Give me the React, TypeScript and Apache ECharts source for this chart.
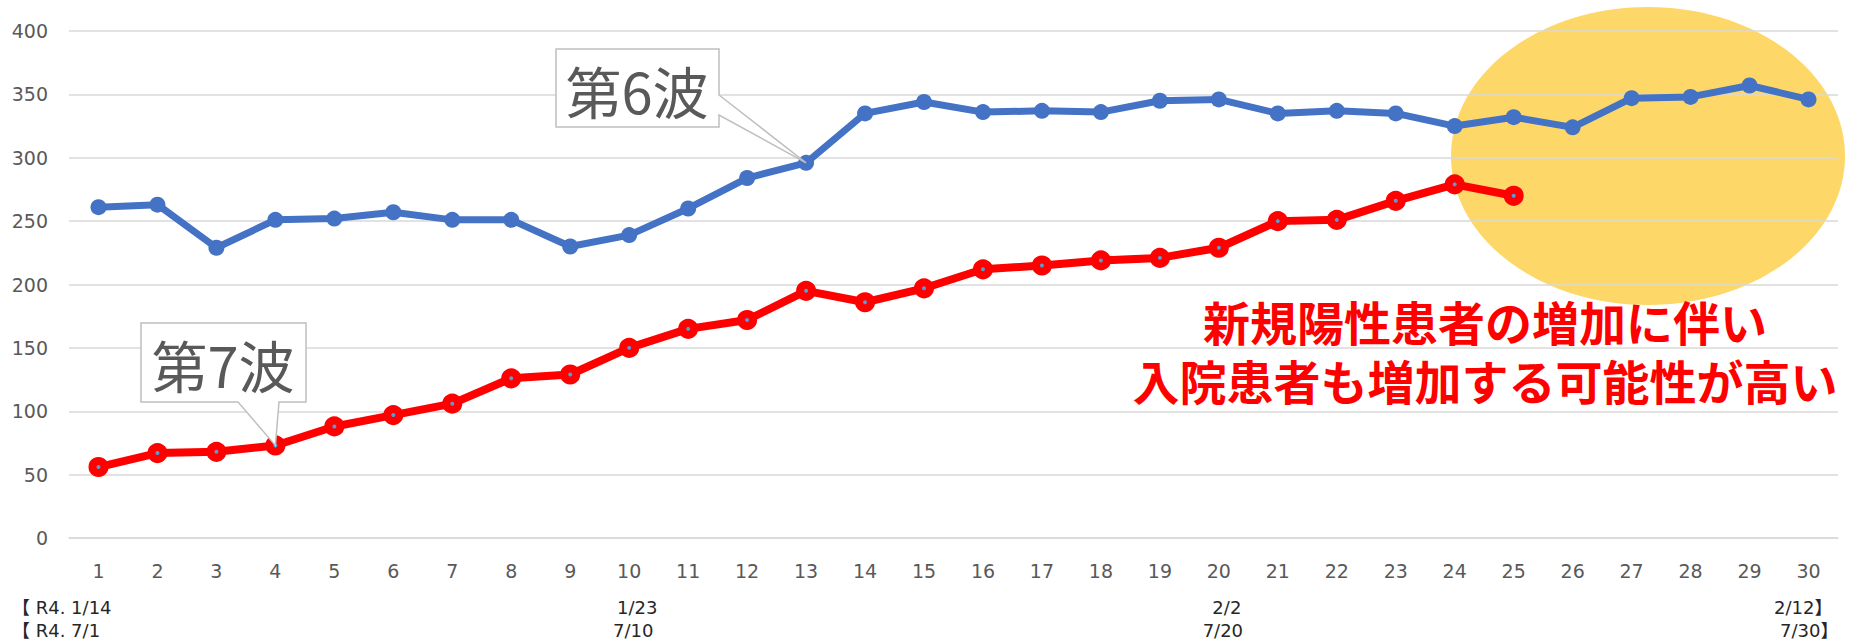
import React, { useEffect, useRef } from 'react';
import * as echarts from 'echarts';

const days = ['1','2','3','4','5','6','7','8','9','10','11','12','13','14','15','16','17','18','19','20','21','22','23','24','25','26','27','28','29','30'];
const wave6 = [261,263,229,251,252,257,251,251,230,239,260,284,296,335,344,336,337,336,345,346,335,337,335,325,332,324,347,348,357,346];
const wave7 = [56,67,68,73,88,97,106,126,129,150,165,172,195,186,197,212,215,219,221,229,250,251,266,279,270];
const yMin = 0;
const yMax = 400;
const yStep = 50;
const dateIdx = [0, 9, 19, 29];
const dateRow1 = ['【 R4. 1/14', '1/23', '2/2', '2/12】'];
const dateRow2 = ['【 R4. 7/1', '7/10', '7/20', '7/30】'];
const label6 = '第6波';
const label7 = '第7波';
const message = ['新規陽性患者の増加に伴い', '入院患者も増加する可能性が高い'];

const FONT = '"Noto Sans CJK JP", "Noto Sans", sans-serif';
const NUMFONT = '"DejaVu Sans", "Noto Sans CJK JP", sans-serif';

export default function App() {
  const ref = useRef<HTMLDivElement>(null);
  useEffect(() => {
    if (!ref.current) return;
    const chart = echarts.init(ref.current, undefined, { renderer: 'svg' });
    chart.setOption({
      animation: false,
      backgroundColor: '#ffffff',
      grid: { left: 69, right: 25, top: 31, bottom: 104, containLabel: false },
      xAxis: {
        type: 'category',
        data: days,
        boundaryGap: true,
        axisLine: { show: true, lineStyle: { color: '#D9D9D9', width: 1.5 } },
        axisTick: { show: false },
        axisLabel: { color: '#595959', fontSize: 19, fontFamily: NUMFONT, margin: 23 },
      },
      yAxis: {
        type: 'value',
        min: yMin,
        max: yMax,
        interval: yStep,
        axisLine: { show: false },
        axisTick: { show: false },
        axisLabel: { color: '#595959', fontSize: 19, fontFamily: NUMFONT, margin: 21 },
        splitLine: { lineStyle: { color: '#D9D9D9', width: 1.5 } },
      },
      series: [
        {
          name: '第6波',
          type: 'line',
          data: wave6,
          symbol: 'circle',
          symbolSize: 16,
          lineStyle: { color: '#4472C4', width: 7 },
          itemStyle: { color: '#4472C4' },
          z: 3,
        },
        {
          name: '第7波',
          type: 'line',
          data: wave7,
          symbol: 'circle',
          symbolSize: 12,
          lineStyle: { color: '#FF0000', width: 8 },
          itemStyle: { color: '#5B9BD5', borderColor: '#FF0000', borderWidth: 8 },
          z: 4,
        },
      ],
    });

    const px = (i: number, v: number) => chart.convertToPixel({ xAxisIndex: 0, yAxisIndex: 0 }, [i, v]) as number[];
    const tip6 = px(12, wave6[12]);
    const tip7 = px(3, wave7[3]);
    const base = px(0, 0);
    const rowY1 = base[1] + 69;
    const rowY2 = base[1] + 92;

    const dateTexts: any[] = [];
    dateIdx.forEach((idx, k) => {
      const p = px(idx, 0);
      let x1 = p[0] + 8;
      let x2 = p[0] + 4;
      let align: string = 'center';
      if (k === 0) { x1 = 12; x2 = 12; align = 'left'; }
      if (k === dateIdx.length - 1) { x1 = p[0] + 24; x2 = p[0] + 30; align = 'right'; }
      dateTexts.push({
        type: 'text', x: x1, y: rowY1, z: 50,
        style: { text: dateRow1[k], fontSize: 18, fontFamily: NUMFONT, fill: '#262626', align, verticalAlign: 'middle' },
      });
      dateTexts.push({
        type: 'text', x: x2, y: rowY2, z: 50,
        style: { text: dateRow2[k], fontSize: 18, fontFamily: NUMFONT, fill: '#262626', align, verticalAlign: 'middle' },
      });
    });

    chart.setOption({
      graphic: [
        {
          type: 'ellipse', z: -10, silent: true,
          shape: { cx: 1648, cy: 156, rx: 197, ry: 149 },
          style: { fill: '#FDD868' },
        },
        {
          type: 'polygon', z: 100,
          shape: { points: [[556, 49], [719, 49], [719, 95], [tip6[0], tip6[1]], [719, 115], [719, 127], [556, 127]] },
          style: { fill: '#ffffff', stroke: '#BFBFBF', lineWidth: 1.5 },
        },
        {
          type: 'text', z: 101, x: 637, y: 89,
          style: { text: label6, fontSize: 56, fontFamily: FONT, fill: '#595959', align: 'center', verticalAlign: 'middle' },
        },
        {
          type: 'polygon', z: 100,
          shape: { points: [[141, 323], [306, 323], [306, 402], [279, 402], [tip7[0], tip7[1]], [238, 402], [141, 402]] },
          style: { fill: '#ffffff', stroke: '#BFBFBF', lineWidth: 1.5 },
        },
        {
          type: 'text', z: 101, x: 223, y: 363,
          style: { text: label7, fontSize: 56, fontFamily: FONT, fill: '#595959', align: 'center', verticalAlign: 'middle' },
        },
        {
          type: 'text', z: 60, x: 1485, y: 320,
          style: { text: message[0], fontSize: 47, fontWeight: 'bold', fontFamily: FONT, fill: '#FF0000', align: 'center', verticalAlign: 'middle' },
        },
        {
          type: 'text', z: 60, x: 1485, y: 379,
          style: { text: message[1], fontSize: 47, fontWeight: 'bold', fontFamily: FONT, fill: '#FF0000', align: 'center', verticalAlign: 'middle' },
        },
        ...dateTexts,
      ],
    });

    return () => chart.dispose();
  }, []);
  return <div ref={ref} style={{ position: 'absolute', left: 0, top: 0, width: 1863, height: 642, background: '#fff' }} />;
}
